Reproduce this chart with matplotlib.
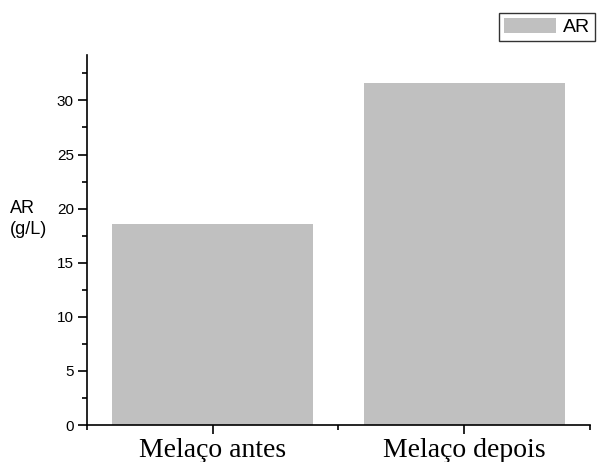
import numpy as np
import matplotlib.pyplot as plt

categories = ["Melaço antes", "Melaço depois"]
ar_values = [18.6, 31.6]

fig = plt.figure(figsize=(5.98, 4.62), dpi=100)
ax = fig.add_axes([0.1455, 0.080, 0.8411, 0.801])

x = np.arange(1, len(categories) + 1)
ax.bar(x, ar_values, width=0.8, color="#c0c0c0", label="AR")

ax.set_xlim(0.5, 2.5)
ax.set_ylim(0, 34.2)
ax.spines["top"].set_visible(False)
ax.spines["right"].set_visible(False)

ax.set_yticks(np.arange(0, 31, 5))
ax.set_yticks(np.arange(2.5, 34, 5), minor=True)
ax.set_xticks(x)
ax.set_xticks([0.5, 1.5, 2.5], minor=True)
ax.set_xticklabels(categories, fontfamily="Liberation Serif", fontsize=20)
for lab in ax.get_yticklabels():
    lab.set_fontfamily("Liberation Sans")
    lab.set_fontsize(11)
ax.tick_params(axis="both", which="major", length=6.5, width=1.2, direction="out")
ax.tick_params(axis="both", which="minor", length=3.5, width=1.2, direction="out")
ax.tick_params(axis="x", pad=2.5)
ax.tick_params(axis="y", pad=3)
for s in ["left", "bottom"]:
    ax.spines[s].set_linewidth(1.2)

fig.text(0.017, 0.526, "AR\n(g/L)", ha="left", va="center",
         fontfamily="Liberation Sans", fontsize=13, linespacing=1.3)

leg = ax.legend(loc="upper right", bbox_to_anchor=(0.995, 0.972), bbox_transform=fig.transFigure,
                frameon=True, fancybox=False, edgecolor="black",
                prop={"family": "Liberation Sans", "size": 14},
                handlelength=2.7, handleheight=0.83, borderpad=0.25, handletextpad=0.35,
                borderaxespad=0)
leg.get_frame().set_linewidth(1.0)

fig.savefig("out.png", dpi=100)
